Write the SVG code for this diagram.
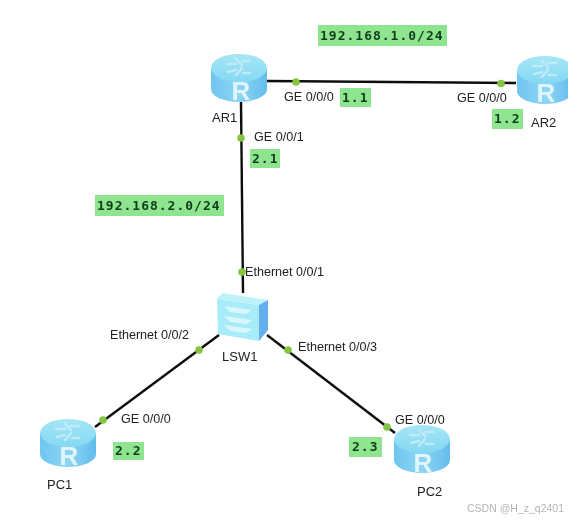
<svg xmlns="http://www.w3.org/2000/svg" width="568" height="520" viewBox="0 0 568 520">
<style>
.lbl{font-family:"Liberation Sans",Arial,sans-serif;font-size:12.6px;fill:#222}
.name{font-family:"Liberation Sans",Arial,sans-serif;font-size:13px;fill:#222}
.addr{font-family:"DejaVu Sans Mono","Liberation Mono",monospace;font-size:13px;letter-spacing:1px;fill:#0f3d1a;font-weight:600}
.box{fill:#8fe58f}
.link{stroke:#111;stroke-width:2.4;fill:none}
.dot{fill:#84c440}
.rtxt{font-family:"Liberation Sans",Arial,sans-serif;font-size:26px;font-weight:700;fill:#dff5fc;text-anchor:middle}
.glyph{stroke:#bfeaf8;stroke-width:2.6;fill:none;stroke-linecap:round}
.mark{font-family:"Liberation Sans",Arial,sans-serif;font-size:10.5px;fill:#b5b5b5}
</style>
<defs>
<linearGradient id="side" x1="0" x2="1" y1="0" y2="0">
<stop offset="0" stop-color="#6ec6f0"/><stop offset=".5" stop-color="#8fd4f4"/><stop offset="1" stop-color="#62bdec"/>
</linearGradient>
<linearGradient id="top" x1="0" x2="0" y1="0" y2="1">
<stop offset="0" stop-color="#a5e6f7"/><stop offset="1" stop-color="#84d8f2"/>
</linearGradient>
<g id="router">
<path d="M-28,-10 V10 A28,13 0 0 0 28,10 V-10 Z" fill="url(#side)"/>
<ellipse cx="0" cy="-11" rx="28" ry="14" fill="url(#top)"/>
<path class="glyph" d="M-12,-15 L-3,-15 M3,-18 L11,-18 M-11,-7 L-3,-9 M4,-6 L11,-6 M-3,-20 L3,-14 M-3,-4 L3,-11"/>
</g>
<filter id="soft" x="-2%" y="-2%" width="104%" height="104%"><feGaussianBlur stdDeviation="0.5"/></filter>
</defs>
<rect width="568" height="520" fill="#fff"/>
<g filter="url(#soft)">
<g id="connectors">
<path class="link" d="M267,81 L516,83"/>
<path class="link" d="M241,102 L243,293"/>
<path class="link" d="M219,335 L95,427"/>
<path class="link" d="M267,335 L395,433"/>
<circle class="dot" cx="296" cy="82" r="3.800"/>
<circle class="dot" cx="501" cy="83.500" r="3.800"/>
<circle class="dot" cx="241" cy="138" r="3.800"/>
<circle class="dot" cx="242" cy="272" r="3.800"/>
<circle class="dot" cx="199" cy="350" r="3.800"/>
<circle class="dot" cx="288" cy="350" r="3.800"/>
<circle class="dot" cx="103" cy="420" r="3.800"/>
<circle class="dot" cx="387" cy="427" r="3.800"/>
</g>
<g id="AR1"><use href="#router" x="239" y="79"/><text class="rtxt" x="241" y="100">R</text><text class="name" x="212" y="122">AR1</text></g>
<g id="AR2"><use href="#router" x="545" y="81"/><text class="rtxt" x="546" y="102">R</text><text class="name" x="531" y="127">AR2</text></g>
<g id="LSW1">
<polygon points="217,299 222,293 268,300 259,305" fill="#bdf2fb"/>
<polygon points="217,299 259,305 259,341 218,334" fill="#a8ecf9"/>
<polygon points="259,305 268,300 268,330 259,341" fill="#62b0f0"/>
<path d="M224,306 L252,310 L246,314 L230,312 Z M224,316 L252,320 L246,324 L230,322 Z M224,325 L252,329 L246,333 L230,331 Z" fill="#d8f8fd"/>
<text class="name" x="222" y="361">LSW1</text>
</g>
<g id="PC1"><use href="#router" x="68" y="444"/><text class="rtxt" x="69" y="465">R</text><text class="name" x="47" y="489">PC1</text></g>
<g id="PC2"><use href="#router" x="422" y="450"/><text class="rtxt" x="423" y="472">R</text><text class="name" x="417" y="496">PC2</text></g>
<g id="labels">
<rect class="box" x="318" y="25" width="129" height="21"/><text class="addr" x="320" y="40">192.168.1.0/24</text>
<rect class="box" x="95" y="195" width="129" height="21"/><text class="addr" x="97" y="210">192.168.2.0/24</text>
<rect class="box" x="340" y="88" width="31" height="19"/><text class="addr" x="342" y="102">1.1</text>
<rect class="box" x="492" y="109" width="31" height="20"/><text class="addr" x="494" y="123">1.2</text>
<rect class="box" x="250" y="149" width="30" height="19"/><text class="addr" x="252" y="163">2.1</text>
<rect class="box" x="113" y="442" width="31" height="18"/><text class="addr" x="115" y="455">2.2</text>
<rect class="box" x="349" y="437" width="33" height="20"/><text class="addr" x="352" y="451">2.3</text>
<text class="lbl" x="284" y="101">GE 0/0/0</text>
<text class="lbl" x="457" y="102">GE 0/0/0</text>
<text class="lbl" x="254" y="141">GE 0/0/1</text>
<text class="lbl" x="245" y="276">Ethernet 0/0/1</text>
<text class="lbl" x="110" y="339">Ethernet 0/0/2</text>
<text class="lbl" x="298" y="351">Ethernet 0/0/3</text>
<text class="lbl" x="121" y="423">GE 0/0/0</text>
<text class="lbl" x="395" y="424">GE 0/0/0</text>
<text class="mark" x="467" y="512">CSDN @H_z_q2401</text>
</g>
</g>
</svg>
